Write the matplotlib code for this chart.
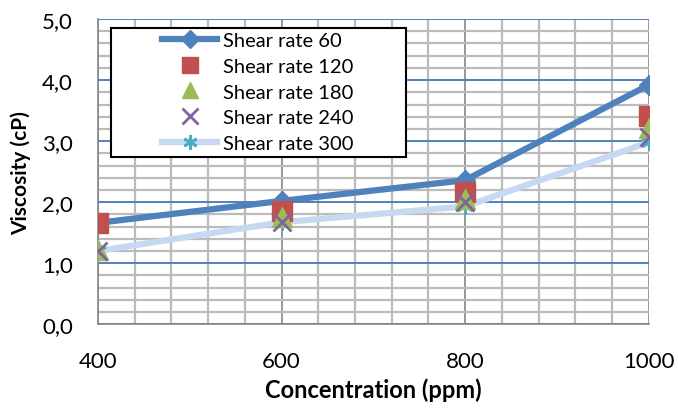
import numpy as np
import matplotlib
matplotlib.use("Agg")
from matplotlib import pyplot as plt
from matplotlib.patches import Rectangle
from matplotlib.ticker import MultipleLocator, FuncFormatter

# Data
concentration = [400, 600, 800, 1000]
shear_60 = [1.66, 2.02, 2.36, 3.92]
shear_120 = [1.66, 1.86, 2.16, 3.41]
shear_180 = [1.21, 1.76, 2.05, 3.21]
shear_240 = [1.20, 1.67, 2.00, 3.07]
shear_300 = [1.20, 1.67, 1.93, 2.98]

plt.rcParams['font.family'] = ['Lato', 'DejaVu Sans']

fig = plt.figure(figsize=(6.78, 4.10), dpi=100)
ax = fig.add_axes([0.1445, 0.207, 0.8125, 0.744])

# lines underneath, markers on top
ax.plot(concentration, shear_60, color='#4F81BD', lw=4.5, marker='D', ms=10.5,
        mfc='#4F81BD', mec='#4F81BD', label='Shear rate 60', zorder=3)
ax.plot(concentration, shear_120, ls='none', marker='s', ms=14,
        mfc='#C0504D', mec='#C0504D', label='Shear rate 120', zorder=5)
ax.plot(concentration, shear_180, ls='none', marker='^', ms=14,
        mfc='#9BBB59', mec='#9BBB59', label='Shear rate 180', zorder=6)
ax.plot(concentration, shear_240, ls='none', marker='x', ms=13, mew=2,
        color='#8064A2', label='Shear rate 240', zorder=7)
ax.plot(concentration, shear_300, color='#C6D9F1', lw=4.5, marker=(6, 2, 0), ms=12,
        mew=2, mec='#4BACC6', label='Shear rate 300', zorder=4)

ax.set_xlim(400, 1000)
ax.set_ylim(0, 5)
ax.xaxis.set_major_locator(MultipleLocator(200))
ax.xaxis.set_minor_locator(MultipleLocator(40))
ax.yaxis.set_major_locator(MultipleLocator(1))
ax.yaxis.set_minor_locator(MultipleLocator(0.2))
ax.yaxis.set_major_formatter(FuncFormatter(lambda v, p: '{:.1f}'.format(v).replace('.', ',')))

ax.grid(which='minor', color='#BBBBBB', lw=1.6, zorder=0)
ax.grid(which='major', axis='x', color='#868686', lw=1.2, zorder=1)
ax.grid(which='major', axis='y', color='#4F81BD', lw=1.4, zorder=1)
ax.set_axisbelow(True)

for s in ['top', 'right']:
    ax.spines[s].set_visible(False)
for s in ['left', 'bottom']:
    ax.spines[s].set_color('#868686')
    ax.spines[s].set_linewidth(1.2)

ax.tick_params(which='both', length=0, labelsize=16)
ax.tick_params(axis='y', pad=18)
ax.tick_params(axis='x', pad=19)

ax.set_xlabel('Concentration (ppm)', fontsize=17, fontweight='bold', labelpad=5)
ax.set_ylabel('Viscosity (cP)', fontsize=15, fontweight='bold', labelpad=8)

# legend box (Excel style: wide frame, entries centred inside)
box = Rectangle((0.0236, 0.548), 0.5354, 0.422, transform=ax.transAxes,
                facecolor='white', edgecolor='black', lw=1.5, zorder=9)
ax.add_patch(box)
leg = ax.legend(loc='center', bbox_to_anchor=(0.2895, 0.761), fontsize=14.5,
                frameon=False, handlelength=2.75, handletextpad=0.26,
                labelspacing=0.42, borderpad=0, borderaxespad=0, markerscale=0.85)
leg.set_zorder(10)

plt.savefig('out.png', dpi=100)
